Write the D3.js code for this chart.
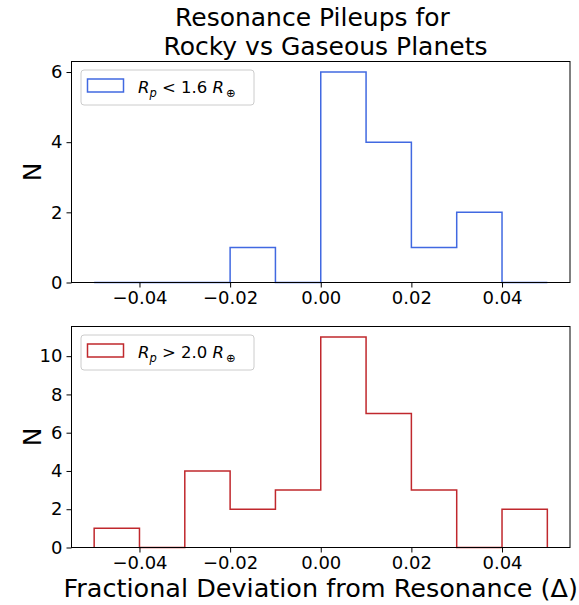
<!DOCTYPE html>
<html>
<head>
<meta charset="utf-8">
<script src="https://cdn.jsdelivr.net/npm/d3@7"></script>
<style>
  html, body { margin: 0; padding: 0; background: #fff; }
  svg { display: block; font-family: "DejaVu Sans", sans-serif; }
</style>
</head>
<body>
<svg id="chart" width="579" height="605"></svg>
<script>
// ---- data ----
const binEdges = [-0.05, -0.04, -0.03, -0.02, -0.01, 0.00, 0.01, 0.02, 0.03, 0.04, 0.05];
const rockyCounts = [0, 0, 0, 1, 0, 6, 4, 1, 2, 0];
const gaseousCounts = [1, 0, 4, 2, 3, 11, 7, 3, 0, 2];
const xTicks = [-0.04, -0.02, 0.00, 0.02, 0.04];
const rockyYTicks = [0, 2, 4, 6];
const gaseousYTicks = [0, 2, 4, 6, 8, 10];
const titleLines = ["Resonance Pileups for", "Rocky vs Gaseous Planets"];
const xLabel = "Fractional Deviation from Resonance (\u0394)";
const yLabel = "N";

const svg = d3.select("#chart");
const left = 71.5, right = 570;

const x = d3.scaleLinear().domain([-0.055, 0.055]).range([left, right]);
const fmt = v => (v < 0 ? "\u2212" : "") + Math.abs(v).toFixed(2);

// title
svg.append("text").attr("x", 175).attr("y", 26).attr("text-anchor", "start")
  .attr("font-size", 25).attr("fill", "#000").text(titleLines[0]);
svg.append("text").attr("x", 163.5).attr("y", 55).attr("text-anchor", "start")
  .attr("font-size", 25).attr("fill", "#000").text(titleLines[1]);

function panel(top, bottom, counts, yMax, yTicks, color, sign, threshold) {
  const y = d3.scaleLinear().domain([0, yMax * 1.05]).range([bottom, top]);
  const g = svg.append("g");

  // histogram step path
  const pts = [[binEdges[0], 0]];
  counts.forEach((c, i) => { pts.push([binEdges[i], c]); pts.push([binEdges[i + 1], c]); });
  pts.push([binEdges[binEdges.length - 1], 0]);
  const line = d3.line().x(d => x(d[0])).y(d => y(d[1]));
  g.append("path").attr("d", line(pts)).attr("fill", "none")
    .attr("stroke", color).attr("stroke-width", 1.5).attr("stroke-linejoin", "miter");

  // axes
  const xa = g.append("g").attr("transform", `translate(0,${bottom})`)
    .call(d3.axisBottom(x).tickValues(xTicks).tickFormat(fmt).tickSize(5).tickPadding(3.5));
  const ya = g.append("g").attr("transform", `translate(${left},0)`)
    .call(d3.axisLeft(y).tickValues(yTicks).tickFormat(d3.format("d")).tickSize(5).tickPadding(4));
  [xa, ya].forEach(a => {
    a.select(".domain").remove();
    a.selectAll("line").attr("stroke", "#000").attr("stroke-width", 1);
    a.selectAll("text").attr("font-size", 18).attr("fill", "#000")
      .attr("font-family", "DejaVu Sans, sans-serif");
  });
  // frame
  g.append("rect").attr("x", left).attr("y", top).attr("width", right - left)
    .attr("height", bottom - top).attr("fill", "none").attr("stroke", "#000").attr("stroke-width", 1);

  // y label
  g.append("text").attr("transform", `translate(41,${(top + bottom) / 2}) rotate(-90)`)
    .attr("text-anchor", "middle").attr("font-size", 25).attr("fill", "#000").text(yLabel);

  // legend
  const lg = g.append("g").attr("transform", `translate(81,${top + 8.5})`);
  lg.append("rect").attr("x", 0).attr("y", 0).attr("width", 173).attr("height", 35)
    .attr("rx", 3).attr("fill", "#fff").attr("fill-opacity", 0.8)
    .attr("stroke", "#cccccc").attr("stroke-width", 1);
  lg.append("rect").attr("x", 6.5).attr("y", 9).attr("width", 36).attr("height", 13)
    .attr("fill", "none").attr("stroke", color).attr("stroke-width", 1.5);
  const t = lg.append("text").attr("x", 57).attr("y", 23).attr("font-size", 16.5).attr("fill", "#000");
  t.append("tspan").attr("font-style", "italic").text("R");
  t.append("tspan").attr("font-style", "italic").attr("font-size", 11.5).attr("dy", 4).text("p");
  t.append("tspan").attr("dy", -4).text(" " + sign + " " + threshold + " ");
  t.append("tspan").attr("font-style", "italic").text("R");
  t.append("tspan").attr("font-size", 11.5).attr("dy", 4).attr("dx", 2).text("\u2295");
  return y;
}

panel(61.5, 282.5, rockyCounts, 6, rockyYTicks, "#4169e1", "<", "1.6");
panel(326.5, 547.5, gaseousCounts, 11, gaseousYTicks, "#c0282d", ">", "2.0");

// x label
svg.append("text").attr("x", (left + right) / 2).attr("y", 597).attr("text-anchor", "middle")
  .attr("font-size", 25.5).attr("fill", "#000").text(xLabel);
</script>
</body>
</html>
